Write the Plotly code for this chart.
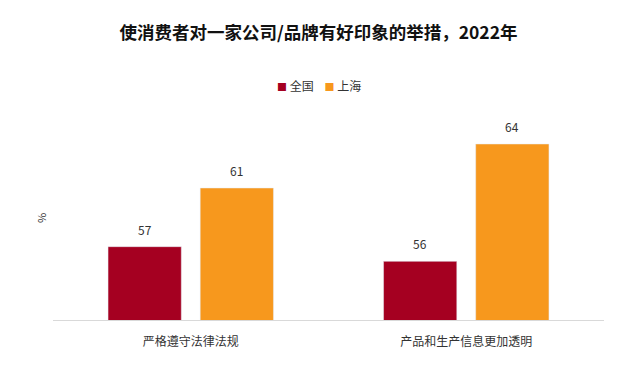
import plotly.graph_objects as go

categories = ["严格遵守法律法规", "产品和生产信息更加透明"]
series_names = ["全国", "上海"]
national = [57, 56]
shanghai = [61, 64]
colors = ["#A50021", "#F7981D"]

font_family = "Noto Sans CJK SC, Noto Sans, sans-serif"

W, H = 637, 366
ML, MR, MT, MB = 53, 33, 100, 46
PW, PH = W - ML - MR, H - MT - MB


def px_to_paper_x(px):
    return (px - ML) / PW


def px_to_paper_y(py):
    return (H - MB - py) / PH


fig = go.Figure()
for name, vals, col in zip(series_names, [national, shanghai], colors):
    fig.add_trace(go.Bar(
        x=categories, y=vals, name=name, marker_color=col,
        showlegend=False, hoverinfo="skip",
    ))

# value labels above bars
bar_offset_px = 46
for vals, sign in zip([national, shanghai], [-1, 1]):
    for cat, v in zip(categories, vals):
        fig.add_annotation(x=cat, y=v, xref="x", yref="y", text=str(v),
                           showarrow=False, xshift=sign * bar_offset_px,
                           yanchor="bottom", yshift=7,
                           font=dict(size=12, color="#333333", family=font_family))

# legend drawn as text
legend_text = "    ".join(
    f'<span style="color:{c};font-size:10px">■</span> {n}' for n, c in zip(series_names, colors)
)
fig.add_annotation(x=px_to_paper_x(W / 2), y=px_to_paper_y(85), xref="paper", yref="paper",
                   text=legend_text, showarrow=False, xanchor="center", yanchor="middle",
                   font=dict(size=12, color="#333333", family=font_family))

# y axis title
fig.add_annotation(x=px_to_paper_x(41), y=px_to_paper_y(218), xref="paper", yref="paper",
                   text="%", textangle=-90, showarrow=False,
                   xanchor="center", yanchor="middle",
                   font=dict(size=11, color="#333333", family=font_family))

fig.update_layout(
    width=W, height=H,
    margin=dict(l=ML, r=MR, t=MT, b=MB),
    paper_bgcolor="white", plot_bgcolor="white",
    font=dict(family=font_family, color="#222222"),
    title=dict(text="<b>使消费者对一家公司/品牌有好印象的举措，2022年</b>",
               x=0.5, xanchor="center", xref="container",
               y=1 - 33 / H, yanchor="middle", yref="container",
               font=dict(size=17.5, color="#111111", family=font_family)),
    showlegend=False,
    barmode="group", bargap=0.331, bargroupgap=0.205,
    xaxis=dict(showline=True, linecolor="#d9d9d9", linewidth=1,
               tickfont=dict(size=12, color="#333333"), ticks="",
               ticklabelstandoff=11, automargin=False),
    yaxis=dict(range=[52, 67], showticklabels=False, showgrid=False,
               zeroline=False, ticks="", automargin=False),
)

fig.write_html("out.html", config={"displayModeBar": False},
               post_script="document.body.style.margin='0';")
